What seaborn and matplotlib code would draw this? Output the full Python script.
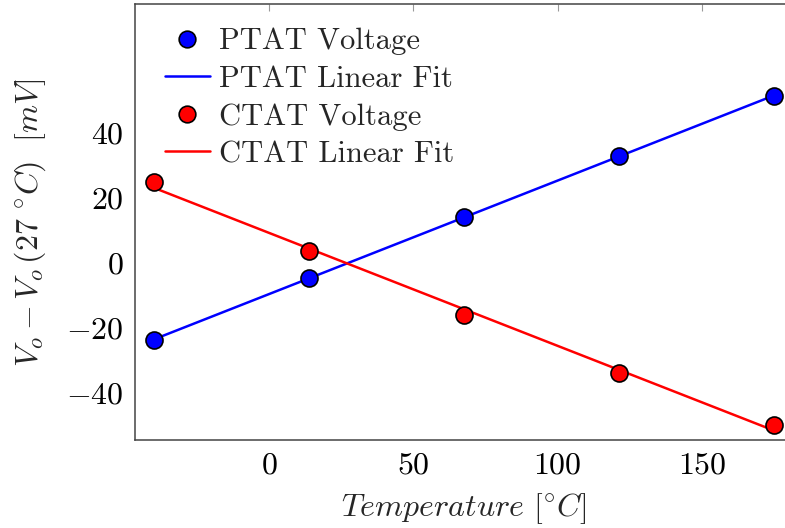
import numpy as np
import pandas as pd
import matplotlib
matplotlib.use('Agg')
import matplotlib.pyplot as plt
import seaborn as sns
from matplotlib.lines import Line2D

# values
temperature = [-40, 13.75, 67.5, 121.25, 175]
ptat_voltage = [-23.6, -4.6, 14.2, 32.9, 51.6]
ctat_voltage = [25.0, 3.7, -15.9, -33.7, -49.8]

x_ticks = [0, 50, 100, 150]
y_ticks = [-40, -20, 0, 20, 40]

df = pd.DataFrame({'temp': temperature, 'ptat': ptat_voltage, 'ctat': ctat_voltage})

# linear fits of both series
p_fit = np.polyfit(df['temp'], df['ptat'], 1)
c_fit = np.polyfit(df['temp'], df['ctat'], 1)
df['ptat_fit'] = np.polyval(p_fit, df['temp'])
df['ctat_fit'] = np.polyval(c_fit, df['temp'])

sns.set_style('white')
plt.rcParams['font.family'] = ['cmr10']
plt.rcParams['mathtext.fontset'] = 'cm'
plt.rcParams['axes.formatter.use_mathtext'] = True
plt.rcParams['axes.unicode_minus'] = True

fig = plt.figure(figsize=(7.85, 5.28), dpi=100)
ax = fig.add_axes([0.172, 0.1667, 0.838, 0.8258])

sns.lineplot(data=df, x='temp', y='ptat_fit', color='#0000ff', lw=1.8, ax=ax, zorder=2)
sns.lineplot(data=df, x='temp', y='ctat_fit', color='#ff0000', lw=1.8, ax=ax, zorder=2)
sns.scatterplot(data=df, x='temp', y='ptat', color='#0000ff', s=150, edgecolor='black',
                linewidth=1.2, ax=ax, zorder=3)
sns.scatterplot(data=df, x='temp', y='ctat', color='#ff0000', s=150, edgecolor='black',
                linewidth=1.2, ax=ax, zorder=3)

ax.set_xlim(-46.4, 181.4)
ax.set_ylim(-54.4, 79.8)
ax.set_xticks(x_ticks)
ax.set_yticks(y_ticks)
ax.tick_params(direction='in', length=5, width=0.8, color='#999999', labelsize=23,
               top=True, right=True, labelcolor='black')
ax.tick_params(axis='y', pad=8.5)
ax.tick_params(axis='x', pad=9)
for s in ax.spines.values():
    s.set_color('#444444')
    s.set_linewidth(1.1)

ax.set_xlabel(r'$Temperature\ [^{\circ}C]$', fontsize=23, labelpad=8)
ax.set_ylabel(r'$V_o - V_o\,(27\ ^{\circ}C)\ \ [mV]$', fontsize=23, labelpad=13)

handles = [
    Line2D([], [], ls='none', marker='o', markersize=12, markerfacecolor='#0000ff',
           markeredgecolor='black', markeredgewidth=1.2),
    Line2D([], [], color='#0000ff', lw=1.8),
    Line2D([], [], ls='none', marker='o', markersize=12, markerfacecolor='#ff0000',
           markeredgecolor='black', markeredgewidth=1.2),
    Line2D([], [], color='#ff0000', lw=1.8),
]
labels = ['PTAT Voltage', 'PTAT Linear Fit', 'CTAT Voltage', 'CTAT Linear Fit']
ax.legend(handles, labels, loc='upper left', bbox_to_anchor=(0.046, 0.945), frameon=False,
          fontsize=22, handlelength=1.45, handletextpad=0.3, labelspacing=0.33,
          borderaxespad=0, borderpad=0)

fig.savefig('out.png', dpi=100)
